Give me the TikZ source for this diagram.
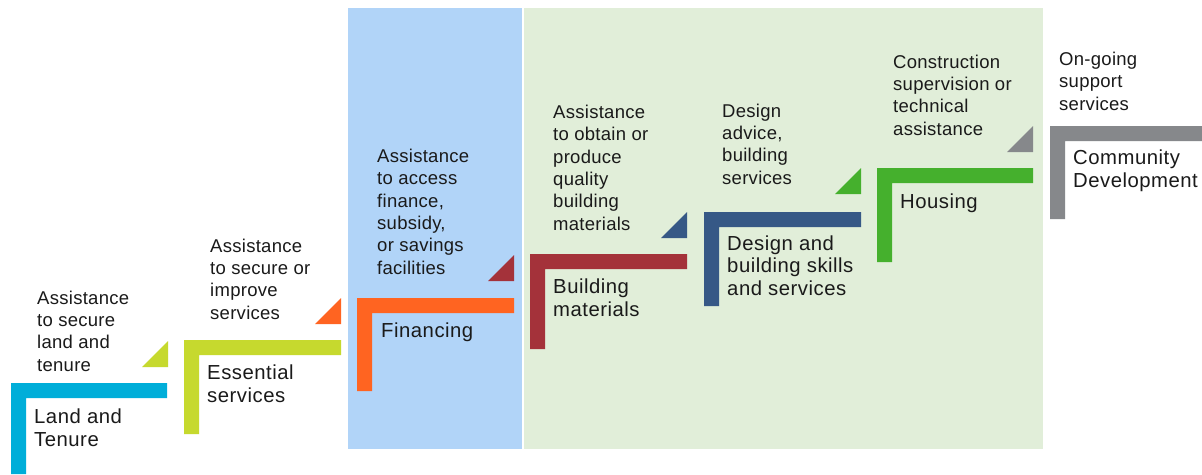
\documentclass[tikz,border=0pt]{standalone}
\usepackage{fontspec}
\setmainfont{Liberation Sans}
\newfontfamily\annotfont[LetterSpace=1.5]{Liberation Sans}
\newfontfamily\lblfont[LetterSpace=2.5]{Liberation Sans}
\definecolor{cCyan}{HTML}{00AED9}
\definecolor{cLime}{HTML}{C6D92E}
\definecolor{cOrange}{HTML}{FF6421}
\definecolor{cRed}{HTML}{A4323A}
\definecolor{cDblue}{HTML}{365886}
\definecolor{cGreen}{HTML}{45B02D}
\definecolor{cGrey}{HTML}{86888B}
\definecolor{bgBlue}{HTML}{B1D4F8}
\definecolor{bgGreen}{HTML}{E1EED9}
\definecolor{txt}{HTML}{1A1A1A}
\begin{document}
\begin{tikzpicture}[x=1pt,y=-1pt,
  annot/.style={anchor=base west,inner sep=0pt,align=left,text=txt,font=\annotfont\fontsize{18.5}{22.3}\selectfont},
  lbl/.style={anchor=base west,inner sep=0pt,align=left,text=txt,font=\lblfont\fontsize{20.3}{22.3}\selectfont}]
\useasboundingbox[fill=white] (0,0) rectangle (1202,474);
% backgrounds
\fill[bgBlue] (348,8) rectangle (522,449);
\fill[bgGreen] (524,8) rectangle (1043,449);
% L brackets: colour, x0, x1, ytop, ybot
\newcommand{\Lbr}[5]{\fill[#1] (#2,#4) -- (#3,#4) -- (#3,#4+15) -- (#2+15,#4+15) -- (#2+15,#5) -- (#2,#5) -- cycle;}
\Lbr{cCyan}{11}{167}{383}{474}
\Lbr{cLime}{184}{341}{340}{434}
\Lbr{cOrange}{357}{514}{298}{391}
\Lbr{cRed}{530}{687}{254}{349}
\Lbr{cDblue}{704}{861}{212}{306}
\Lbr{cGreen}{877}{1033}{168}{262}
\Lbr{cGrey}{1050}{1202}{126}{219}
% triangles: colour, right x, top y
\newcommand{\Tri}[3]{\fill[#1] (#2-26,#3+26) -- (#2,#3+26) -- (#2,#3) -- cycle;}
\Tri{cLime}{168}{341}
\Tri{cOrange}{341}{298}
\Tri{cRed}{514}{255}
\Tri{cDblue}{687}{212}
\Tri{cGreen}{861}{168}
\Tri{cGrey}{1033}{126}
% annotations (anchored at last line baseline)
\node[annot] (a1) at (37,371) {Assistance\\to secure\\land and\\tenure};
\node[annot] (a2) at (210,319) {Assistance\\to secure or\\improve\\services};
\node[annot] (a3) at (377,274) {Assistance\\to access\\finance,\\subsidy,\\or savings\\facilities};
\node[annot] (a4) at (553,230) {Assistance\\to obtain or\\produce\\quality\\building\\materials};
\node[annot] (a5) at (722,184) {Design\\advice,\\building\\services};
\node[annot] (a6) at (893,135) {Construction\\supervision or\\technical\\assistance};
\node[annot] (a7) at (1059,110) {On-going\\support\\services};
% labels
\node[lbl] (l1) at (34,446) {Land and\\Tenure};
\node[lbl] (l2) at (207,402) {Essential\\services};
\node[lbl] (l3) at (381,337) {Financing};
\node[lbl] (l4) at (553,316) {Building\\materials};
\node[lbl] (l5) at (727,295) {Design and\\building skills\\and services};
\node[lbl] (l6) at (900,208) {Housing};
\node[lbl] (l7) at (1073,187) {Community\\Development};
\end{tikzpicture}
\end{document}
